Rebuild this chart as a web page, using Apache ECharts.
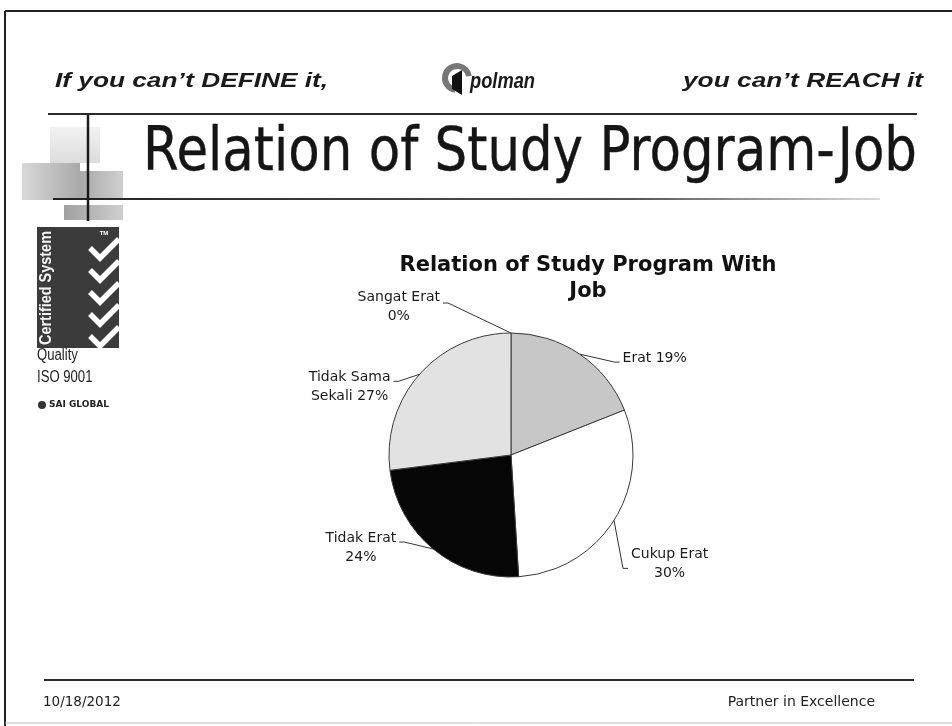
<!DOCTYPE html>
<html><head><meta charset="utf-8">
<script src="https://cdn.jsdelivr.net/npm/echarts@6/dist/echarts.min.js"></script>
<style>html,body{margin:0;padding:0;background:#fff}#c{width:952px;height:726px}</style>
</head><body><div id="c"></div>
<script>
// ---- data ----
const categories = ['Sangat Erat', 'Erat', 'Cukup Erat', 'Tidak Erat', 'Tidak Sama Sekali'];
const values = [0, 19, 30, 24, 27];
const labelTemplates = ['{name}\n{pct}%', '{name} {pct}%', '{name}\n{pct}%', '{name}\n{pct}%', 'Tidak Sama\nSekali {pct}%'];
const chartTitle = 'Relation of Study Program With\nJob';
const slideTitle = 'Relation of Study Program-Job';

// ---- styles ----
const sliceColors = ['#bdbdbd', '#c7c7c7', '#ffffff', '#060606', '#e2e2e2'];
const leaderOffsets = [[-68, -30], [40, 8], [14, 48], [-34, -7], [-26, 7]];
const textShiftY = [4, -4, -5, 6, 6];

const ctx = document.createElement('canvas').getContext('2d');
function fitScale(text, font, target) {
  ctx.font = font;
  return target / ctx.measureText(text).width;
}

const chart = echarts.init(document.getElementById('c'), null, {renderer: 'canvas'});

function line(x1, y1, x2, y2, w, color) {
  return {type: 'line', silent: true, shape: {x1, y1, x2, y2}, style: {stroke: color, lineWidth: w}};
}
function check(y) {
  return {type: 'polyline', silent: true, shape: {points: [[90, y + 2], [100, y + 12], [119, y - 7]]},
    style: {stroke: '#ffffff', lineWidth: 5.5, fill: null, lineJoin: 'miter'}};
}

const titleFont = '60px "DejaVu Sans"';
const headFont = 'italic bold 21px "Liberation Sans"';
const certFont = 'bold 17px "Liberation Sans"';
const smallFont = '16px "Liberation Sans"';

const graphics = [
  // slide border
  line(5, 11, 5, 726, 2, '#222'),
  line(5, 11, 952, 11, 2, '#222'),
  line(5, 723, 952, 723, 1, '#bbb'),
  // header
  {type: 'text', silent: true, x: 55, y: 81, scaleX: fitScale("If you can\u2019t DEFINE it,", headFont, 273), style: {text: "If you can\u2019t DEFINE it,", font: headFont, fill: '#1a1a1a', verticalAlign: 'middle'}},
  {type: 'text', silent: true, x: 923, y: 81, scaleX: fitScale("you can\u2019t REACH it", headFont, 240), style: {text: "you can\u2019t REACH it", font: headFont, fill: '#1a1a1a', align: 'right', verticalAlign: 'middle'}},
  // polman logo
  {type: 'arc', silent: true, shape: {cx: 457, cy: 78, r: 12, startAngle: Math.PI * 0.55, endAngle: Math.PI * 1.95}, style: {stroke: '#777', lineWidth: 6, fill: null}},
  {type: 'polygon', silent: true, shape: {points: [[452, 76], [462, 70], [462, 95], [452, 89]]}, style: {fill: '#111'}},
  {type: 'text', silent: true, x: 470, y: 82, scaleX: fitScale('polman', 'italic bold 22px "Liberation Sans"', 65), style: {text: 'polman', font: 'italic bold 22px "Liberation Sans"', fill: '#1a1a1a', verticalAlign: 'middle'}},
  // title decoration
  {type: 'rect', silent: true, shape: {x: 50, y: 127, width: 50, height: 36}, style: {fill: new echarts.graphic.LinearGradient(0, 0, 0, 1, [{offset: 0, color: '#f2f2f2'}, {offset: 1, color: '#dcdcdc'}])}},
  {type: 'rect', silent: true, shape: {x: 22, y: 163, width: 58, height: 37}, style: {fill: new echarts.graphic.LinearGradient(0, 0, 1, 0, [{offset: 0, color: '#d8d8d8'}, {offset: 1, color: '#a9a9a9'}])}},
  {type: 'rect', silent: true, shape: {x: 80, y: 171, width: 43, height: 29}, style: {fill: new echarts.graphic.LinearGradient(0, 0, 1, 0, [{offset: 0, color: '#a8a8a8'}, {offset: 1, color: '#d0d0d0'}])}},
  {type: 'rect', silent: true, shape: {x: 64, y: 205, width: 59, height: 15}, style: {fill: new echarts.graphic.LinearGradient(0, 0, 1, 0, [{offset: 0, color: '#a0a0a0'}, {offset: 1, color: '#cfcfcf'}])}},
  line(48, 114, 917, 114, 2, '#2a2a2a'),
  {type: 'line', silent: true, shape: {x1: 53, y1: 199, x2: 880, y2: 199}, style: {lineWidth: 2, stroke: new echarts.graphic.LinearGradient(0, 0, 1, 0, [{offset: 0, color: '#222'}, {offset: 0.7, color: '#555'}, {offset: 1, color: '#ddd'}])}},
  line(88, 114, 88, 221, 2.5, '#1a1a1a'),
  {type: 'text', silent: true, x: 143, y: 154, scaleX: fitScale(slideTitle, titleFont, 774), style: {text: slideTitle, font: titleFont, fill: '#151515', stroke: '#151515', lineWidth: 0.4, verticalAlign: 'middle'}},
  // certified badge
  {type: 'rect', silent: true, shape: {x: 37, y: 227, width: 82, height: 121}, style: {fill: '#3b3b3b'}},
  {type: 'text', silent: true, x: 46, y: 288, rotation: Math.PI / 2, scaleX: fitScale('Certified System', certFont, 114), style: {text: 'Certified System', font: certFont, fill: '#f4f4f4', align: 'center', verticalAlign: 'middle'}},
  {type: 'text', silent: true, x: 104, y: 233, style: {text: 'TM', font: 'bold 6px "Liberation Sans"', fill: '#fff', align: 'center', verticalAlign: 'middle'}},
  check(246), check(268), check(290), check(312), check(334),
  {type: 'text', silent: true, x: 37, y: 356, scaleX: 0.82, style: {text: 'Quality', font: smallFont, fill: '#222', verticalAlign: 'middle'}},
  {type: 'text', silent: true, x: 37, y: 378, scaleX: 0.82, style: {text: 'ISO 9001', font: smallFont, fill: '#222', verticalAlign: 'middle'}},
  {type: 'circle', silent: true, shape: {cx: 42, cy: 405, r: 4}, style: {fill: '#333'}},
  {type: 'text', silent: true, x: 49, y: 405, style: {text: 'SAI GLOBAL', font: 'bold 9px "DejaVu Sans"', fill: '#222', verticalAlign: 'middle'}},
  // footer
  line(44, 680, 914, 680, 2, '#2a2a2a'),
  {type: 'text', silent: true, x: 43, y: 702, style: {text: '10/18/2012', font: '13.5px "DejaVu Sans"', fill: '#222', verticalAlign: 'middle'}},
  {type: 'text', silent: true, x: 875, y: 702, style: {text: 'Partner in Excellence', font: '14px "DejaVu Sans"', fill: '#222', align: 'right', verticalAlign: 'middle'}}
];

const option = {
  backgroundColor: '#ffffff',
  animation: false,
  title: {
    text: chartTitle,
    left: 583, top: 248, textAlign: 'center',
    textStyle: {fontFamily: '"DejaVu Sans"', fontWeight: 'bold', fontSize: 21, lineHeight: 26, color: '#111'}
  },
  graphic: graphics,
  series: [{
    type: 'pie',
    center: [511, 455],
    radius: [0, 122],
    startAngle: 90.001,
    clockwise: true,
    avoidLabelOverlap: false,
    silent: true,
    data: categories.map((n, i) => ({name: n, value: values[i], itemStyle: {color: sliceColors[i]}})),
    itemStyle: {borderColor: '#3a3a3a', borderWidth: 1},
    label: {
      show: true,
      position: 'outside',
      fontFamily: '"DejaVu Sans"',
      fontSize: 14,
      color: '#1a1a1a',
      lineHeight: 19,
      formatter: p => {
        const t = labelTemplates[p.dataIndex].replace('{name}', p.name).replace('{pct}', Math.round(p.percent));
        return t.split('\n').map(s => '{c|' + s + '}').join('\n');
      },
      rich: {c: {align: 'center', fontFamily: '"DejaVu Sans"', fontSize: 14, lineHeight: 19, color: '#1a1a1a'}}
    },
    labelLine: {show: true, length: 10, length2: 20, lineStyle: {color: '#333', width: 1}},
    labelLayout: function (p) {
      const i = p.dataIndex;
      const pts = p.labelLinePoints;
      if (!pts) return {};
      const p0 = pts[0];
      const off = leaderOffsets[i];
      const end = [p0[0] + off[0], p0[1] + off[1]];
      const s = off[0] < 0 ? -1 : 1;
      const mid = [end[0] - s * 5, end[1]];
      return {x: end[0] + s * 3, y: end[1] + textShiftY[i], labelLinePoints: [p0, mid, end]};
    }
  }]
};
chart.setOption(option);
</script></body></html>
